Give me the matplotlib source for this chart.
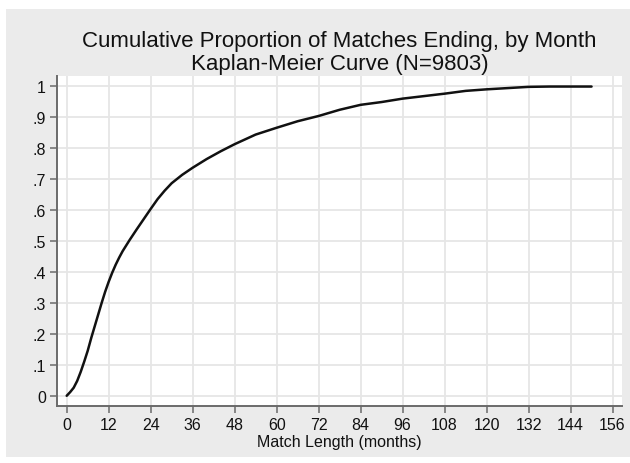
import matplotlib
matplotlib.use("Agg")
import matplotlib.pyplot as plt
from matplotlib.patches import Rectangle

# Data
months = [0, 1, 2, 3, 4, 5, 6, 7, 8, 9, 10, 11, 12, 13, 14, 15, 16, 18, 20,
          22, 24, 26, 28, 30, 33, 36, 40, 44, 48, 54, 60, 66, 72, 78, 84, 90,
          96, 102, 108, 114, 120, 126, 132, 138, 144, 150]
proportion = [0.0, 0.012, 0.026, 0.048, 0.077, 0.11, 0.145, 0.186, 0.224,
              0.262, 0.30, 0.336, 0.368, 0.397, 0.423, 0.446, 0.467, 0.503,
              0.537, 0.570, 0.603, 0.635, 0.662, 0.686, 0.713, 0.736, 0.764,
              0.789, 0.812, 0.843, 0.865, 0.886, 0.903, 0.923, 0.939, 0.948,
              0.959, 0.967, 0.975, 0.984, 0.989, 0.993, 0.997, 0.998, 0.998,
              0.998]
x_ticks = list(range(0, 157, 12))
y_ticks = [0, 0.1, 0.2, 0.3, 0.4, 0.5, 0.6, 0.7, 0.8, 0.9, 1.0]
y_labels = ["0", ".1", ".2", ".3", ".4", ".5", ".6", ".7", ".8", ".9", "1"]
title1 = "Cumulative Proportion of Matches Ending, by Month"
title2 = "Kaplan-Meier Curve (N=9803)"
xlabel = "Match Length (months)"

plt.rcParams['font.family'] = ['Liberation Sans', 'DejaVu Sans']

W, H = 630, 464
fig = plt.figure(figsize=(W / 100, H / 100), dpi=100)
fig.patch.set_facecolor('white')

bg = Rectangle((6 / W, (H - 458) / H), (W - 6) / W, 448 / H,
               transform=fig.transFigure, facecolor='#ebebeb',
               edgecolor='none', zorder=-10)
fig.patches.append(bg)

ax = fig.add_axes([57 / W, 1 - 407 / H, (622 - 57) / W, (407 - 76.7) / H])
ax.set_zorder(1)
ax.set_facecolor('white')

ax.plot(months, proportion, color='#111111', lw=1.8, solid_capstyle='round',
        solid_joinstyle='round', zorder=3)

ax.set_xlim(-2.77, 158.7)
ax.set_ylim(-0.033, 1.033)
ax.set_xticks(x_ticks)
ax.set_xticklabels([str(t) for t in x_ticks])
ax.set_yticks(y_ticks)
ax.set_yticklabels(y_labels)

ax.grid(True, color='#e6e6e6', lw=1.3)
ax.set_axisbelow(True)

for s in ['top', 'right']:
    ax.spines[s].set_visible(False)
for s in ['left', 'bottom']:
    ax.spines[s].set_color('#6a6a6a')
    ax.spines[s].set_linewidth(1.4)

ax.tick_params(axis='both', direction='out', length=5, width=1.1,
               color='#6a6a6a', labelsize=11.5, labelcolor='#111111')
ax.tick_params(axis='x', pad=3)
ax.tick_params(axis='y', pad=3)

fig.text(339.5 / W, 1 - 47.3 / H, title1, ha='center', va='baseline',
         fontsize=16, color='#111111')
fig.text(339.5 / W, 1 - 70 / H, title2, ha='center', va='baseline',
         fontsize=16, color='#111111')
fig.text(339.5 / W, 1 - 446.7 / H, xlabel, ha='center', va='baseline',
         fontsize=11.5, color='#111111')

fig.savefig('out.png', dpi=100, facecolor='white')
